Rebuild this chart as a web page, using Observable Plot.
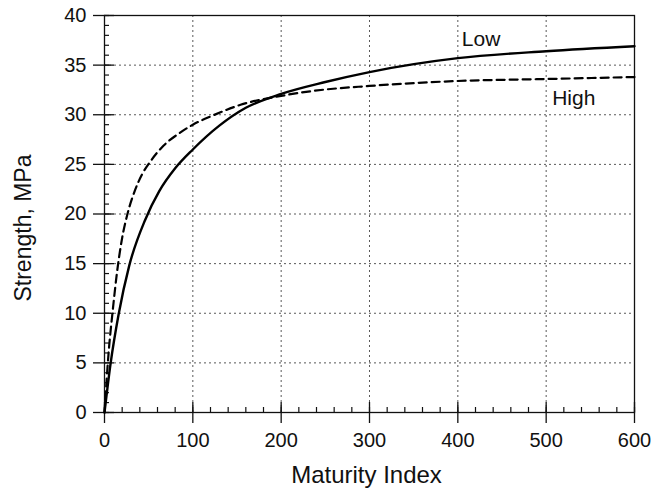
<!DOCTYPE html>
<html>
<head>
<meta charset="utf-8">
<script src="https://cdn.jsdelivr.net/npm/d3@7"></script>
<script src="https://cdn.jsdelivr.net/npm/@observablehq/plot@0.6"></script>
<style>
  html, body { margin: 0; padding: 0; background: #fff; }
  #chart svg { display: block; }
</style>
</head>
<body>
<div id="chart"></div>
<script>
// Strength development vs maturity index for two curing temperatures
const lowIndex    = [0, 7, 16, 28, 46, 62, 80, 100, 130, 160, 200, 250, 300, 400, 500, 600];
const lowStrength = [0, 5, 9.9, 14.8, 19.4, 22.3, 24.6, 26.5, 28.9, 30.7, 32.1, 33.3, 34.3, 35.7, 36.4, 36.9];

const highIndex    = [0, 5, 9, 14, 20, 26, 35, 42, 52, 67, 84, 100, 122, 154, 200, 236, 300, 400, 500, 600];
const highStrength = [0, 6.4, 10.0, 14.0, 17.6, 20.0, 22.5, 23.9, 25.3, 26.9, 28.1, 29.0, 29.9, 31.0, 31.9, 32.4, 32.9, 33.4, 33.6, 33.8];

const seriesNames = ["Low", "High"];

const xTicks = [0, 100, 200, 300, 400, 500, 600];
const yTicks = [0, 5, 10, 15, 20, 25, 30, 35, 40];
const xMinor = d3.range(0, 601, 20);
const yMinor = d3.range(0, 41, 1);
const xGrid = [100, 200, 300, 400, 500];
const yGrid = [5, 10, 15, 20, 25, 30, 35];

const low = lowIndex.map((x, i) => ({x, y: lowStrength[i]}));
const high = highIndex.map((x, i) => ({x, y: highStrength[i]}));

const font = "'Liberation Sans', Arial, Helvetica, sans-serif";

const chart = Plot.plot({
  width: 654,
  height: 493,
  marginLeft: 104,
  marginRight: 20,
  marginTop: 15,
  marginBottom: 81,
  style: {fontFamily: font, fontSize: "20px", color: "#111", background: "#fff"},
  x: {domain: [0, 600], axis: null},
  y: {domain: [0, 40], axis: null},
  marks: [
    // dotted grid
    Plot.gridX(xGrid, {stroke: "#222", strokeOpacity: 0.75, strokeDasharray: "2,3"}),
    Plot.gridY(yGrid, {stroke: "#222", strokeOpacity: 0.75, strokeDasharray: "2,3"}),
    Plot.frame({stroke: "#111", strokeWidth: 1.3}),
    // minor ticks pointing inward
    Plot.ruleX(xMinor, {x: d => d, y1: 0, y2: 0, insetTop: -5, stroke: "#111", strokeWidth: 1.2}),
    Plot.ruleY(yMinor, {y: d => d, x1: 0, x2: 0, insetRight: -5, stroke: "#111", strokeWidth: 1.2}),
    // major ticks crossing the axes
    Plot.ruleX(xTicks, {x: d => d, y1: 0, y2: 0, insetTop: -10, insetBottom: -11, stroke: "#111", strokeWidth: 1.3}),
    Plot.ruleY(yTicks, {y: d => d, x1: 0, x2: 0, insetLeft: -11, insetRight: -10, stroke: "#111", strokeWidth: 1.3}),
    // tick labels
    Plot.axisX(xTicks, {tickSize: 0, tickPadding: 20, label: null, fontSize: 20, fill: "#111"}),
    Plot.axisY(yTicks, {tickSize: 0, tickPadding: 18, label: null, fontSize: 20, fill: "#111"}),
    // curves
    Plot.line(low, {x: "x", y: "y", curve: "monotone-x", stroke: "#000", strokeWidth: 2.4}),
    Plot.line(high, {x: "x", y: "y", curve: "monotone-x", stroke: "#000", strokeWidth: 2.2, strokeDasharray: "8,5"}),
    // series labels next to their curves
    Plot.text([low[13]], {x: "x", y: "y", text: () => seriesNames[0], textAnchor: "start", dx: 4, dy: -19, fontSize: 21, fill: "#111"}),
    Plot.text([high[18]], {x: "x", y: "y", text: () => seriesNames[1], textAnchor: "start", dx: 6, dy: 19, fontSize: 21, fill: "#111"}),
    // axis titles
    Plot.text(["Maturity Index"], {frameAnchor: "bottom", textAnchor: "middle", lineAnchor: "middle", dx: -3, dy: 63, fontSize: 24, fill: "#111"}),
    Plot.text(["Strength, MPa"], {frameAnchor: "left", textAnchor: "middle", lineAnchor: "middle", dx: -81, dy: 14, rotate: -90, fontSize: 23, fill: "#111"})
  ]
});

document.getElementById("chart").appendChild(chart);
</script>
</body>
</html>
